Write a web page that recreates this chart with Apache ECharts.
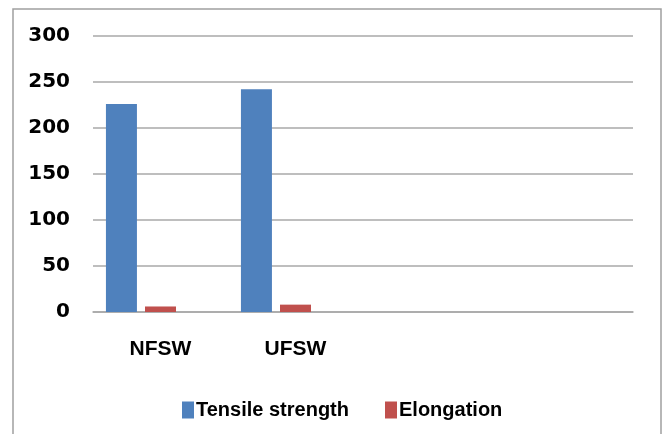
<!DOCTYPE html>
<html>
<head>
<meta charset="utf-8">
<script src="https://cdn.jsdelivr.net/npm/echarts@6/dist/echarts.min.js"></script>
<style>
  html, body { margin: 0; padding: 0; background: #fff; }
  #chart { width: 663px; height: 434px; }
</style>
</head>
<body>
<div id="chart"></div>
<script>
// categories (the two trailing blanks are empty slots in the source chart)
const categories = ["NFSW", "UFSW", "", ""];
const tensileStrength = [226, 242, "-", "-"];
const elongation = [6, 8, "-", "-"];
// third, empty series in the original workbook: keeps the bars off-centre
const emptySeries = ["-", "-", "-", "-"];
const yTicks = { min: 0, max: 300, interval: 50 };

const chart = echarts.init(document.getElementById("chart"));

const gridLine = { color: "#a8a8a8", width: 1.5 };

const option = {
  animation: false,
  backgroundColor: "#fff",
  graphic: [
    {
      type: "rect",
      shape: { x: 13, y: 9, width: 648, height: 440 },
      style: { fill: "none", stroke: "#a0a0a0", lineWidth: 1.5 },
      silent: true,
    },
  ],
  grid: { left: 93, right: 30, top: 36, bottom: 122 },
  legend: {
    data: ["Tensile strength", "Elongation"],
    left: 177,
    top: 395,
    itemWidth: 12,
    itemHeight: 17,
    itemGap: 36,
    icon: "rect",
    textStyle: {
      fontFamily: "Liberation Sans, Arial, sans-serif",
      fontWeight: "bold",
      fontSize: 20,
      color: "#000",
      padding: [0, 0, 0, -3],
    },
  },
  xAxis: {
    type: "category",
    data: categories,
    axisLine: { show: true, lineStyle: gridLine },
    axisTick: { show: false },
    axisLabel: {
      margin: 27,
      fontFamily: "Liberation Sans, Arial, sans-serif",
      fontWeight: "bold",
      fontSize: 21,
      color: "#000",
    },
  },
  yAxis: {
    type: "value",
    min: yTicks.min,
    max: yTicks.max,
    interval: yTicks.interval,
    axisLine: { show: false },
    axisTick: { show: false },
    splitLine: { lineStyle: gridLine },
    axisLabel: {
      margin: 23,
      fontFamily: "DejaVu Sans, sans-serif",
      fontWeight: "bold",
      fontSize: 20,
      color: "#000",
    },
  },
  series: [
    {
      name: "Tensile strength",
      type: "bar",
      data: tensileStrength,
      barWidth: 31,
      barGap: "26%",
      itemStyle: { color: "#4f81bd" },
    },
    {
      name: "Elongation",
      type: "bar",
      data: elongation,
      barWidth: 31,
      barGap: "26%",
      itemStyle: { color: "#c0504d" },
    },
    {
      name: "blank",
      type: "bar",
      data: emptySeries,
      barWidth: 31,
      barGap: "26%",
    },
  ],
};

chart.setOption(option);
</script>
</body>
</html>
